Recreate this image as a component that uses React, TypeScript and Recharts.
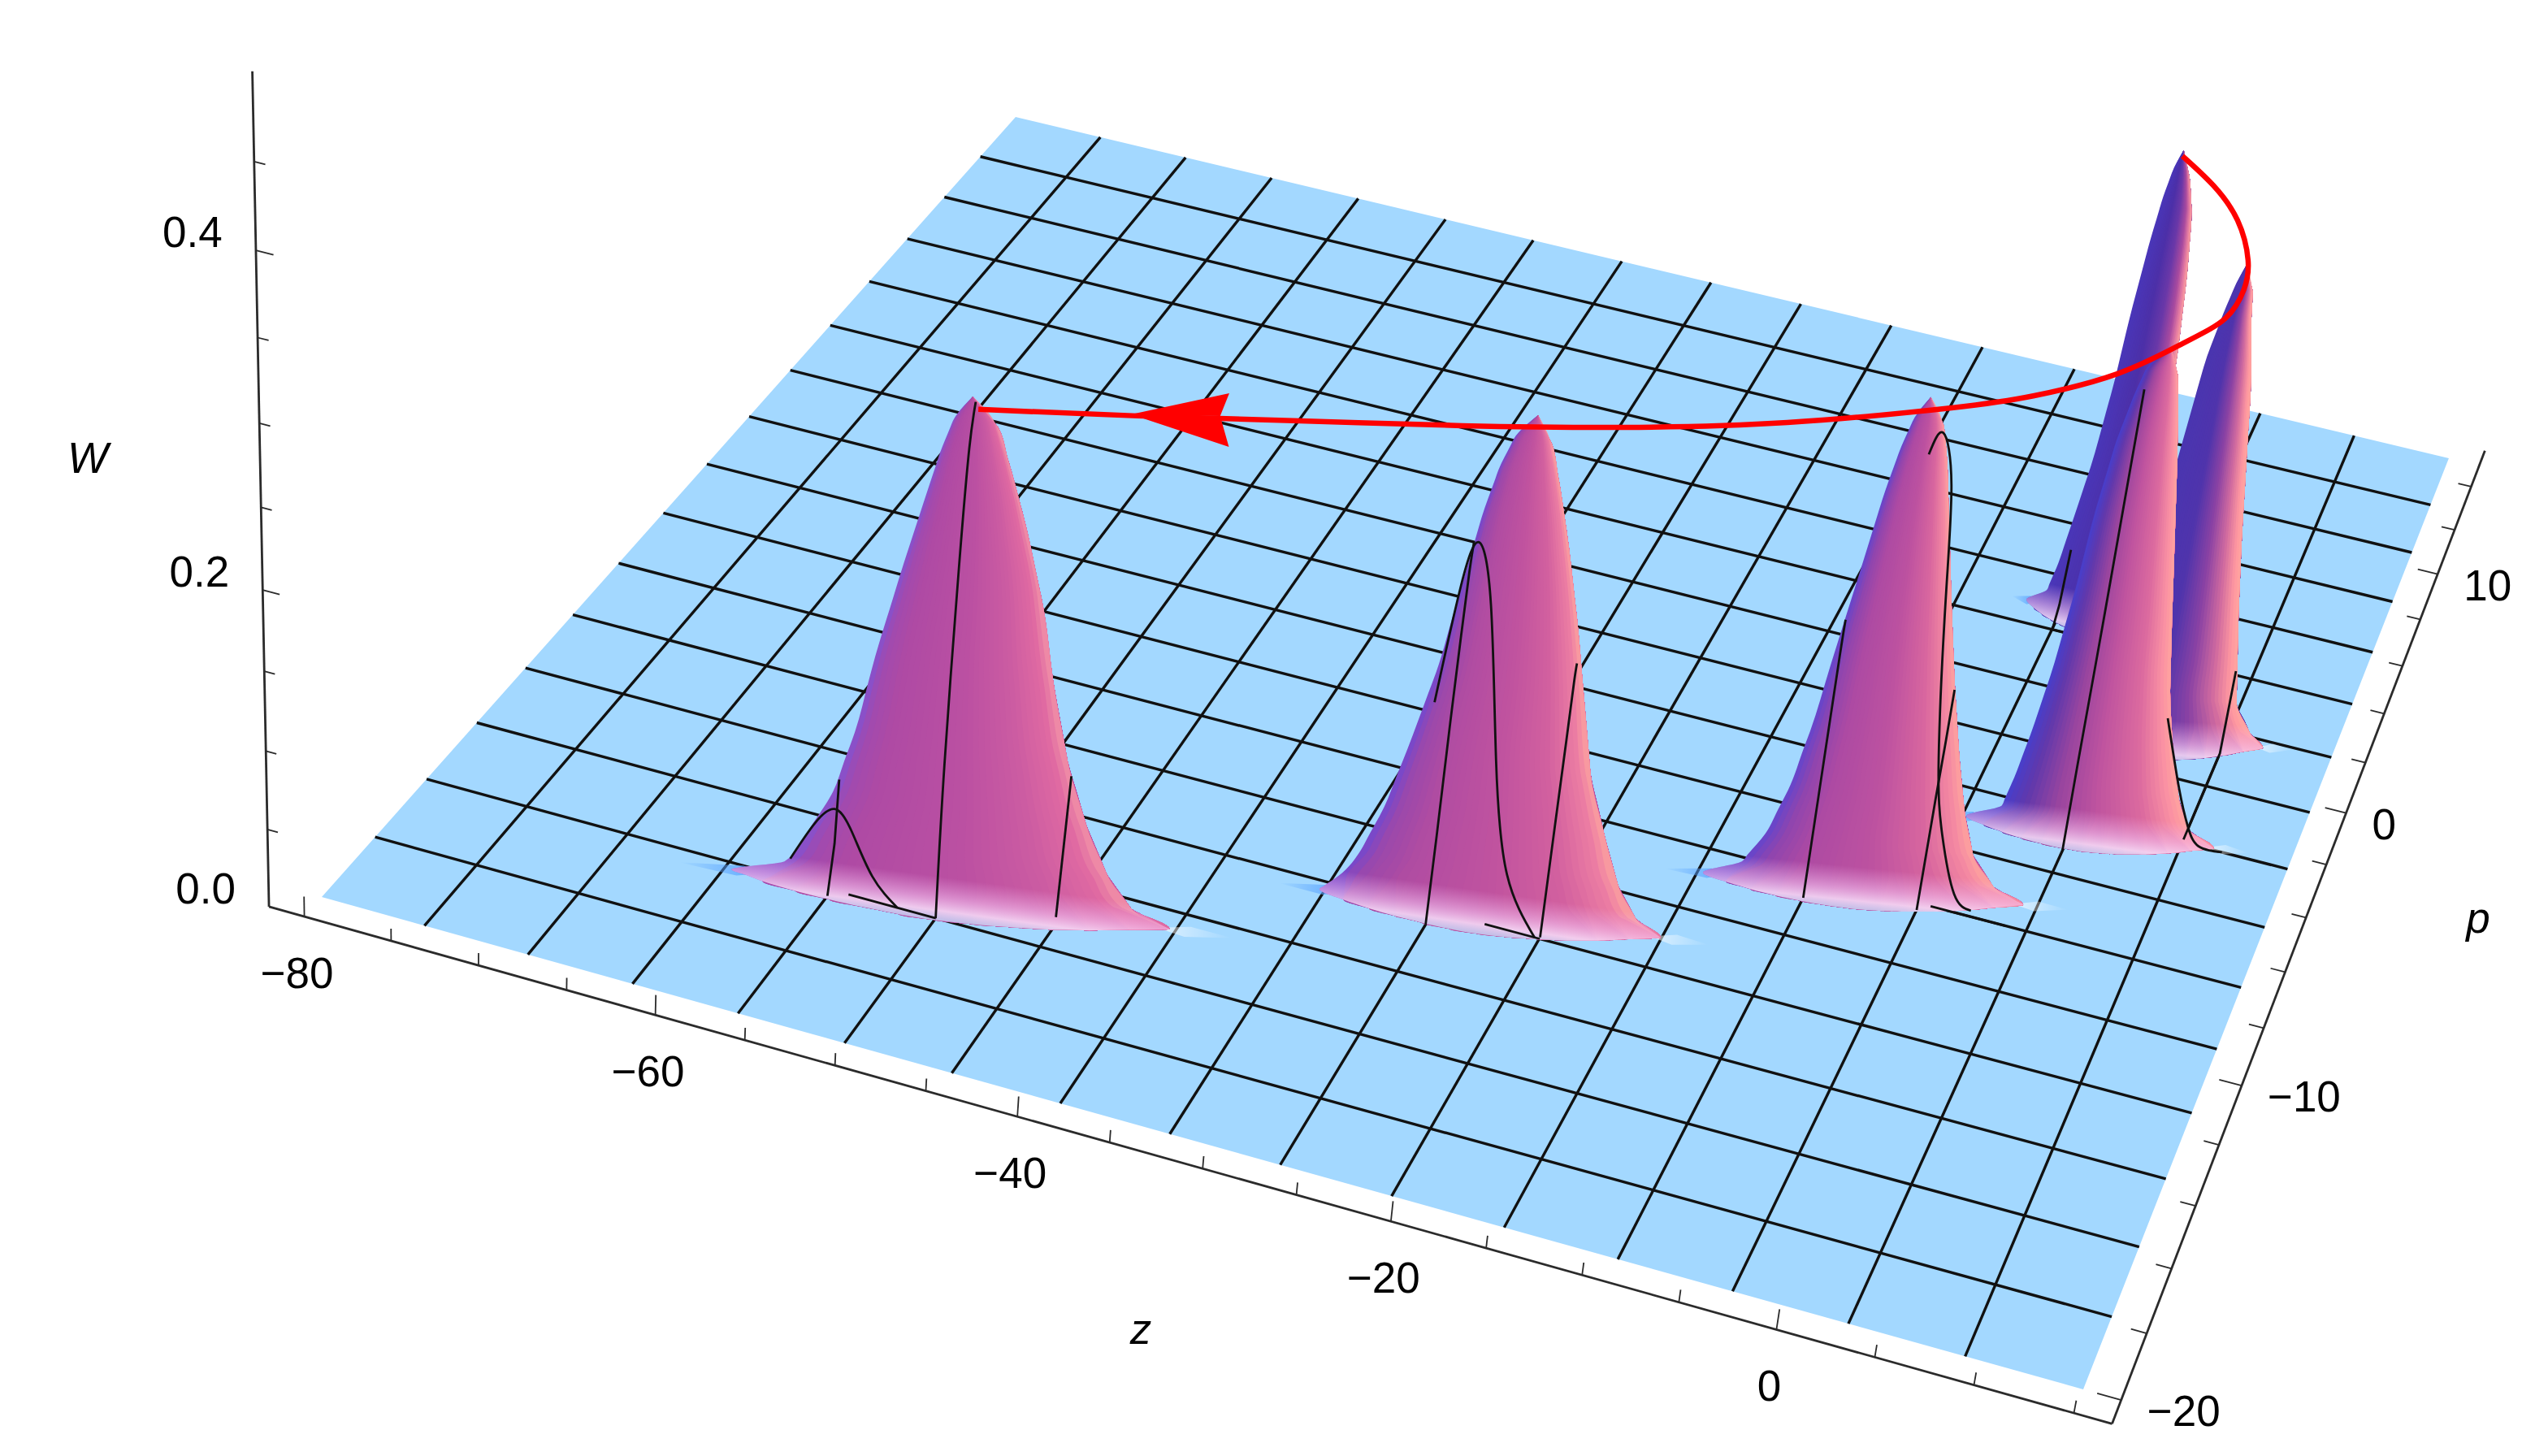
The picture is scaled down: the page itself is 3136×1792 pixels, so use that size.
// Phase-space Wigner function W(z, p): floor mesh, six peaks and the red trajectory
// The 3D box is projected by hand, every mark still goes through the chart's axes

import { ComposedChart, Area, Line, XAxis, YAxis } from 'recharts'

const WIDTH = 3136
const HEIGHT = 1792

// mesh lines of the floor
const zMesh = [-74.06, -68.13, -62.19, -56.25, -50.31, -44.38, -38.44, -32.5, -26.56, -20.63, -14.69, -8.75, -2.81, 3.13, 9.06]
const pMesh = [-17.81, -15.63, -13.44, -11.25, -9.06, -6.88, -4.69, -2.5, -0.31, 1.88, 4.06, 6.25, 8.44, 10.63, 12.81]

// axis ticks
const zTicks = [-80, -75, -70, -65, -60, -55, -50, -45, -40, -35, -30, -25, -20, -15, -10, -5, 0, 5, 10, 15]
const zLabels = [-80, -60, -40, -20, 0]
const pTicks = [-20, -18, -16, -14, -12, -10, -8, -6, -4, -2, 0, 2, 4, 6, 8, 10, 12, 14]
const pLabels = [-20, -10, 0, 10]
const wTicks = [0.05, 0.1, 0.15, 0.2, 0.25, 0.3, 0.35, 0.4, 0.45]
const wLabels = [0, 0.2, 0.4]

// peak outlines: for each W level the left and right edge, as a fraction between the two feet
const wLevels = [0.01, 0.03, 0.06, 0.1, 0.15, 0.2, 0.25, 0.28, 0.3, 0.316]
const peakALeft = [0.15, 0.205, 0.26, 0.33, 0.39, 0.43, 0.48, 0.52, 0.56, 0.62]
const peakARight = [0.94, 0.92, 0.89, 0.87, 0.86, 0.84, 0.8, 0.76, 0.7, 0.62]
const peakBLeft = [0.13, 0.21, 0.25, 0.29, 0.325, 0.36, 0.395, 0.433, 0.465, 0.503]
const peakBRight = [0.923, 0.835, 0.8, 0.755, 0.705, 0.66, 0.612, 0.572, 0.552, 0.503]
const peakCLeft = [0.134, 0.165, 0.2, 0.238, 0.272, 0.296, 0.331, 0.366, 0.397, 0.48]
const peakCRight = [0.89, 0.826, 0.77, 0.714, 0.667, 0.622, 0.576, 0.546, 0.522, 0.48]
const peakDLeft = [0.115, 0.175, 0.225, 0.266, 0.303, 0.341, 0.378, 0.406, 0.432, 0.475]
const peakDRight = [0.9, 0.82, 0.77, 0.722, 0.67, 0.623, 0.578, 0.55, 0.525, 0.475]
const peakELeft = [0.05, 0.11, 0.164, 0.214, 0.271, 0.312, 0.352, 0.384, 0.417, 0.476]
const peakERight = [0.922, 0.859, 0.804, 0.74, 0.693, 0.645, 0.59, 0.552, 0.523, 0.476]
const peakFLeft = [0.12, 0.167, 0.224, 0.267, 0.305, 0.349, 0.396, 0.425, 0.449, 0.489]
const peakFRight = [0.91, 0.85, 0.796, 0.744, 0.7, 0.663, 0.611, 0.574, 0.546, 0.489]

// front edge of the base, how far it comes towards the viewer in p
const baseFront = [0, 0.25, 0.42, 0.55, 0.65, 0.72, 0.75, 0.72, 0.65, 0.55, 0.4, 0.2, 0]

// surface colour from left to right over each peak
const peakAColors: Array<[number, string]> = [[0, '#4a36b8'], [0.35, '#4c30a8'], [0.6, '#6a38a8'], [0.8, '#a84a9f'], [0.92, '#e67ca2'], [1, '#ffa89f']]
const peakBColors: Array<[number, string]> = [[0, '#4a35b0'], [0.4, '#4f34ac'], [0.62, '#8a42a4'], [0.8, '#d06a9f'], [0.93, '#ff98a0'], [1, '#ffa89f']]
const peakCColors: Array<[number, string]> = [[0, '#4a3ec8'], [0.1, '#5f38ac'], [0.28, '#9a459f'], [0.5, '#c0549f'], [0.75, '#dc6b9f'], [0.92, '#fb92a3'], [1, '#ffa79e']]
const peakDColors: Array<[number, string]> = [[0, '#6a45c8'], [0.08, '#8f45ae'], [0.22, '#ad4aa3'], [0.5, '#bd52a0'], [0.75, '#d8669f'], [0.92, '#f58aa2'], [1, '#ffa79e']]
const peakEColors: Array<[number, string]> = [[0, '#7a48c8'], [0.06, '#9a48ac'], [0.2, '#b04ca2'], [0.5, '#c0539f'], [0.75, '#d2609f'], [0.92, '#ec7da3'], [1, '#ffa89f']]
const peakFColors: Array<[number, string]> = [[0, '#8a50c8'], [0.04, '#a04ab0'], [0.15, '#ae4aa4'], [0.5, '#bb50a2'], [0.75, '#cc5ca2'], [0.92, '#e06aa2'], [1, '#f59aa8']]

// mesh lines that climb over the peaks: [z values, p values, W values]
type Slice = [number[], number[], number[]]
const slicesA: Slice[] = [
    [[-2.81], [4.15, 4.5, 4.8], [0, 0.01, 0.044]],
    [[-2.81, -1.6], [4.06], [0, 0]],
]
const slicesB: Slice[] = []
const slicesC: Slice[] = [
    [[3.13], [-3.86, -3.86, -3.8, -3.8, -3.8], [0, 0.058, 0.153, 0.234, 0.3]],
    [[7.02, 8.35, 9.2, 9.97, 11.3], [-2.5], [0.078, 0.034, 0.011, 0, 0]],
    [[9.06], [-2.4, 1, 1.05], [0, 0, 0.056]],
]
const slicesD: Slice[] = [
    [[-8.75], [-7.7, -7.68, -7.65, -7.6], [0, 0.068, 0.155, 0.181]],
    [[-2.81], [-7.12, -7, -6.9, -6.85], [0, 0.073, 0.109, 0.141]],
    [[-6.09, -5.52, -4.67, -4, -3.05, -2.2, -1.05, 0], [-6.88], [0.281, 0.296, 0.266, 0.193, 0.096, 0.048, 0.012, 0.004]],
    [[-2.2, 2], [-6.88], [0, 0]],
]
const slicesE: Slice[] = [
    [[-26.56], [-11.76, -11.65, -11.55, -11.45, -11.35, -11.25], [0, 0.057, 0.13, 0.181, 0.22, 0.238]],
    [[-20.63], [-11.2, -11.1, -11, -10.95, -10.9], [0, 0.066, 0.126, 0.162, 0.173]],
    [[-27.75, -27, -26.3, -25.3, -24.1, -22.8, -20.9], [-11.25], [0.133, 0.209, 0.238, 0.202, 0.107, 0.036, 0]],
    [[-23.7, -20.6], [-11.25], [0, 0]],
]
const slicesF: Slice[] = [
    [[-56.25], [-15.85, -15.6, -15.5], [0, 0.03, 0.07]],
    [[-50.31], [-15.63, -15.6, -15.4, -15.2, -15], [0, 0.0997, 0.219, 0.289, 0.314]],
    [[-44.38], [-14.84, -14.5], [0.005, 0.091]],
    [[-58.7, -57.4, -56.3, -55.3, -54, -52.5], [-15.63], [0.013, 0.04, 0.053, 0.042, 0.016, 0]],
    [[-55.3, -50.3], [-15.63], [0, 0]],
]

const peaks = [
    { id: 'A', footZ: [-4.97, 2.3], footP: [4.97, 5], left: peakALeft, right: peakARight, colors: peakAColors, slices: slicesA },
    { id: 'B', footZ: [-0.14, 11.2], footP: [0.15, 1.6], left: peakBLeft, right: peakBRight, colors: peakBColors, slices: slicesB },
    { id: 'C', footZ: [-2.6, 10.8], footP: [-3.51, -2.44], left: peakCLeft, right: peakCRight, colors: peakCColors, slices: slicesC },
    { id: 'D', footZ: [-14.4, 2.4], footP: [-7.73, -6.04], left: peakDLeft, right: peakDRight, colors: peakDColors, slices: slicesD },
    { id: 'E', footZ: [-32.8, -14.73], footP: [-11.53, -10.2], left: peakELeft, right: peakERight, colors: peakEColors, slices: slicesE },
    { id: 'F', footZ: [-61.8, -38.74], footP: [-15.84, -14.04], left: peakFLeft, right: peakFRight, colors: peakFColors, slices: slicesF },
]

// red trajectory of the maximum
const trajZ = [-0.35, 1.97, 4.07, 5.55, 6.04, 5.8, 4.35, 1.88, -1.54, -5.14, -12.43, -19.8, -27.3, -34.85, -42.36, -49.74]
const trajP = [4.66, 3.73, 2.52, 1.02, -0.17, -1.47, -2.78, -4.52, -6.04, -7.19, -9.11, -10.64, -11.94, -13.13, -14.3, -15.39]
const trajW = 0.317
const arrowZ = [-42.71, -38.99, -38.63, -37.19]
const arrowP = [-14.3, -12.79, -13.62, -14.57]

// view of the box
const Z_MIN = -80, Z_SPAN = 95, P_MIN = -20, P_SPAN = 35
const BOX_Z0 = -82.05, BOX_Z1 = 16.9, BOX_P0 = -20.7, BOX_P1 = 15.7
const RIBBONS_PER_STEP = 3

type Pt = { x: number; y: number }

function project(z: number, p: number, w = 0): Pt {
    const u = (z - Z_MIN) / Z_SPAN
    const v = (p - P_MIN) / P_SPAN
    const d = 1 - 0.07167 * u + 0.24731 * v - 0.168 * w
    return {
        x: (1984.2 * u + 1163.1 * v + 396 - 93 * w) / d,
        y: (483.4 * u - 924.4 * v + 1104 - 2064 * w) / d,
    }
}

// rows for one Area in the vertical layout: at each y the two edges of the polygon
function polygonRows(points: Pt[]) {
    let top = 0
    let bottom = 0
    points.forEach((pt, i) => {
        if (pt.y < points[top].y) top = i
        if (pt.y > points[bottom].y) bottom = i
    })
    const walk = (step: number) => {
        const chain: Pt[] = [points[top]]
        let i = top
        while (i !== bottom) {
            i = (i + step + points.length) % points.length
            if (points[i].y > chain[chain.length - 1].y) chain.push(points[i])
        }
        return chain
    }
    const a = walk(1)
    const b = walk(-1)
    const at = (chain: Pt[], y: number) => {
        for (let i = 1; i < chain.length; i++) {
            if (y <= chain[i].y) {
                const s = (y - chain[i - 1].y) / (chain[i].y - chain[i - 1].y)
                return chain[i - 1].x + s * (chain[i].x - chain[i - 1].x)
            }
        }
        return chain[chain.length - 1].x
    }
    const ys = Array.from(new Set([...a, ...b].map((pt) => pt.y))).sort((m, n) => m - n)
    return ys.map((y) => ({ y, edges: [at(a, y), at(b, y)] }))
}

function mixColor(stops: Array<[number, string]>, f: number) {
    let i = 1
    while (i < stops.length - 1 && f > stops[i][0]) i++
    const [f0, c0] = stops[i - 1]
    const [f1, c1] = stops[i]
    const s = Math.min(1, Math.max(0, (f - f0) / (f1 - f0)))
    const rgb = [1, 3, 5].map((k) => {
        const a = parseInt(c0.slice(k, k + 2), 16)
        const b = parseInt(c1.slice(k, k + 2), 16)
        return Math.round(a + s * (b - a))
    })
    return `rgb(${rgb.join(',')})`
}

type Peak = (typeof peaks)[number]

const onFeet = (peak: Peak, t: number, w: number, dp = 0) =>
    project(
        peak.footZ[0] + t * (peak.footZ[1] - peak.footZ[0]),
        peak.footP[0] + t * (peak.footP[1] - peak.footP[0]) + dp,
        w,
    )

const edgeAt = (peak: Peak, f: number) =>
    wLevels.map((w, i) => onFeet(peak, peak.left[i] + f * (peak.right[i] - peak.left[i]), w))

function ribbonOutline(peak: Peak, f: number) {
    const steps = baseFront.length - 1
    const baseChain: Pt[] = []
    for (let i = steps; i >= Math.ceil(f * steps); i--) {
        baseChain.push(onFeet(peak, i / steps, 0, -baseFront[i]))
    }
    return [...edgeAt(peak, f), ...edgeAt(peak, 1).reverse(), ...baseChain]
}

const lineRows = (zs: number[], ps: number[], ws: number[]) => {
    const n = Math.max(zs.length, ps.length)
    const rows: Pt[] = []
    for (let i = 0; i < n; i++) {
        rows.push(project(zs[zs.length === 1 ? 0 : i], ps[ps.length === 1 ? 0 : i], ws[ws.length === 1 ? 0 : i]))
    }
    return rows
}

const FONT = '"Liberation Sans", Arial, sans-serif'
const AXIS_COLOR = '#2b2b2b'
const MESH_COLOR = '#111111'

export default function App() {
    let layer = 1
    const marks: React.ReactNode[] = []
    const defs: React.ReactNode[] = []

    const addArea = (key: string, points: Pt[], fill: string, curve: 'linear' | 'monotone' = 'linear') => {
        marks.push(
            <Area key={key} data={polygonRows(points)} dataKey="edges" type={curve} stroke="none" fill={fill}
                fillOpacity={1} dot={false} activeDot={false} isAnimationActive={false} zIndex={layer++} />,
        )
    }
    const addLine = (key: string, rows: Pt[], color: string, width: number, curve: 'linear' | 'natural' = 'linear') => {
        marks.push(
            <Line key={key} data={rows} dataKey="x" type={curve} stroke={color} strokeWidth={width} dot={false}
                activeDot={false} isAnimationActive={false} zIndex={layer++} />,
        )
    }

    // floor and its mesh
    addArea('floor', [project(Z_MIN, P_MIN), project(Z_MIN + Z_SPAN, P_MIN), project(Z_MIN + Z_SPAN, P_MIN + P_SPAN), project(Z_MIN, P_MIN + P_SPAN)], '#a3d8ff')
    zMesh.forEach((z) => addLine(`mz${z}`, [project(z, P_MIN), project(z, P_MIN + P_SPAN)], MESH_COLOR, 3.4))
    pMesh.forEach((p) => addLine(`mp${p}`, [project(Z_MIN, p), project(Z_MIN + Z_SPAN, p)], MESH_COLOR, 3.4))

    // box axes
    addLine('axis-z', [project(BOX_Z0, BOX_P0), project(BOX_Z1, BOX_P0)], AXIS_COLOR, 2.8)
    addLine('axis-p', [project(BOX_Z1, BOX_P0), project(BOX_Z1, BOX_P1)], AXIS_COLOR, 2.8)
    addLine('axis-w', [project(BOX_Z0, BOX_P0), project(BOX_Z0, BOX_P0, 0.5)], AXIS_COLOR, 2.8)
    zTicks.forEach((z) => addLine(`tz${z}`, [project(z, BOX_P0), project(z, BOX_P0, zLabels.includes(z) ? 0.013 : 0.008)], AXIS_COLOR, 1.8))
    pTicks.forEach((p) => addLine(`tp${p}`, [project(BOX_Z1, p), project(BOX_Z1 - (pLabels.includes(p) ? 1.2 : 0.8), p)], AXIS_COLOR, 1.8))
    wTicks.forEach((w) => addLine(`tw${w}`, [project(BOX_Z0, BOX_P0, w), project(BOX_Z0 + (wLabels.includes(w) ? 0.95 : 0.6), BOX_P0, w)], AXIS_COLOR, 1.8))

    peaks.forEach((peak) => {
        const footL = onFeet(peak, 0, 0)
        const footR = onFeet(peak, 1, 0)
        const mid = { x: (footL.x + footR.x) / 2, y: (footL.y + footR.y) / 2 }
        const len = Math.hypot(footR.x - footL.x, footR.y - footL.y)
        const nx = -(footR.y - footL.y) / len
        const ny = (footR.x - footL.x) / len

        defs.push(
            <linearGradient key={`g${peak.id}`} id={`pale${peak.id}`} gradientUnits="userSpaceOnUse"
                x1={mid.x - nx * 26} y1={mid.y - ny * 26} x2={mid.x + nx * 26} y2={mid.y + ny * 26}>
                <stop offset="0" stopColor="#f4b6ee" stopOpacity={0} />
                <stop offset="0.5" stopColor="#f6c6f4" stopOpacity={0.55} />
                <stop offset="0.8" stopColor="#f8e0fb" stopOpacity={0.85} />
                <stop offset="1" stopColor="#c6e2ff" stopOpacity={0.75} />
            </linearGradient>,
            <linearGradient key={`gl${peak.id}`} id={`glowL${peak.id}`} x1="0" y1="0" x2="1" y2="0">
                <stop offset="0" stopColor="#4f9dff" stopOpacity={0} />
                <stop offset="0.75" stopColor="#5aa4ff" stopOpacity={0.7} />
                <stop offset="1" stopColor="#4f7dff" stopOpacity={0.75} />
            </linearGradient>,
            <linearGradient key={`gr${peak.id}`} id={`glowR${peak.id}`} x1="0" y1="0" x2="1" y2="0">
                <stop offset="0" stopColor="#ffffff" stopOpacity={0.65} />
                <stop offset="1" stopColor="#ffffff" stopOpacity={0} />
            </linearGradient>,
        )

        // soft spots on the floor beside the feet
        addArea(`glowL${peak.id}`, [onFeet(peak, -0.12, 0), onFeet(peak, 0.02, 0, 0.18), onFeet(peak, 0.07, 0), onFeet(peak, 0.02, 0, -0.18)], `url(#glowL${peak.id})`)
        addArea(`glowR${peak.id}`, [onFeet(peak, 0.97, 0), onFeet(peak, 1.04, 0, 0.18), onFeet(peak, 1.14, 0), onFeet(peak, 1.04, 0, -0.18)], `url(#glowR${peak.id})`)

        // painted left to right, each ribbon reaches to the right edge so no seams show
        const ribbons = (baseFront.length - 1) * RIBBONS_PER_STEP
        for (let k = 0; k < ribbons; k++) {
            const f = k / ribbons
            addArea(`r${peak.id}${k}`, ribbonOutline(peak, f), mixColor(peak.colors, f), 'monotone')
        }
        addArea(`pale${peak.id}`, ribbonOutline(peak, 0), `url(#pale${peak.id})`, 'monotone')

        peak.slices.forEach(([zs, ps, ws], i) => addLine(`s${peak.id}${i}`, lineRows(zs, ps, ws), MESH_COLOR, 2.8, zs.length + ps.length > 4 ? 'natural' : 'linear'))
    })

    // trajectory and arrow head
    addLine('trajectory', trajZ.map((z, i) => project(z, trajP[i], trajW)), '#ff0000', 6.5, 'natural')
    const head = arrowZ.map((z, i) => project(z, arrowP[i], trajW))
    addArea('arrow-top', [head[0], head[1], head[2]], '#ff0000')
    addArea('arrow-bottom', [head[0], head[2], head[3]], '#ff0000')

    const zText = zLabels.map((z) => ({ value: z, at: project(z, BOX_P0) }))
    const pText = pLabels.map((p) => ({ value: p, at: project(BOX_Z1, p) }))
    const wText = wLabels.map((w) => ({ value: w, at: project(BOX_Z0, BOX_P0, w) }))
    const signed = (v: number) => (v < 0 ? `\u2212${-v}` : `${v}`)

    return (
        <div style={{ position: 'absolute', left: 0, top: 0, width: WIDTH, height: HEIGHT, background: '#fff' }}>
            <ComposedChart width={WIDTH} height={HEIGHT} layout="vertical" margin={{ top: 0, right: 0, bottom: 0, left: 0 }}>
                <defs>{defs}</defs>
                <XAxis type="number" dataKey="x" domain={[0, WIDTH]} hide allowDataOverflow />
                <YAxis type="number" dataKey="y" domain={[0, HEIGHT]} hide allowDataOverflow />
                {marks}
                <g fontFamily={FONT} fontSize={53} fill="#000">
                    {zText.map((t) => (
                        <text key={t.value} x={t.at.x - 9} y={t.at.y + 88} textAnchor="middle">{signed(t.value)}</text>
                    ))}
                    {pText.map((t) => (
                        <text key={t.value} x={t.at.x + 32} y={t.at.y + 32} textAnchor="start">{signed(t.value)}</text>
                    ))}
                    {wText.map((t) => (
                        <text key={t.value} x={t.at.x - 78} y={t.at.y - 4} textAnchor="middle">{t.value.toFixed(1)}</text>
                    ))}
                    <text x={108} y={582} textAnchor="middle" fontStyle="italic">W</text>
                    <text x={1404} y={1654} textAnchor="middle" fontStyle="italic">z</text>
                    <text x={3050} y={1148} textAnchor="middle" fontStyle="italic">p</text>
                </g>
            </ComposedChart>
        </div>
    )
}
